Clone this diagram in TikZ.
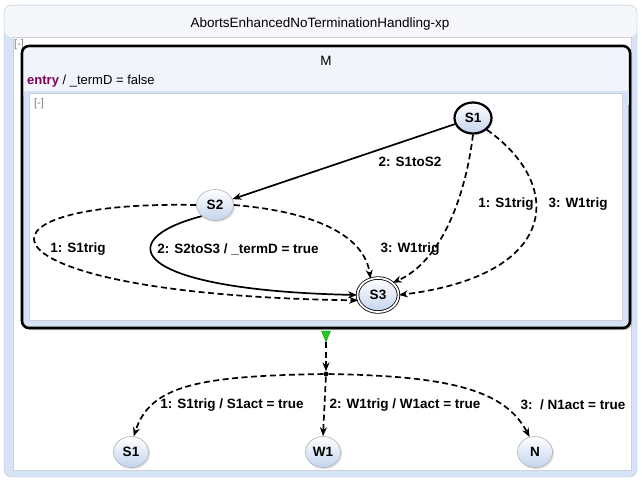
\documentclass[tikz,border=0pt]{standalone}
\usepackage{fontspec}
\setmainfont{Liberation Sans}
\usepackage{xcolor}
\definecolor{frameBlue}{HTML}{D6E2F5}
\definecolor{frameGray}{HTML}{B9BEC7}
\definecolor{titleBg}{HTML}{F6F7FA}
\definecolor{headBg}{HTML}{F1F5FB}
\definecolor{stateBlue}{HTML}{C3D4EE}
\definecolor{entryRed}{HTML}{7F0055}
\definecolor{exitGreen}{HTML}{22CC22}
\usetikzlibrary{arrows.meta,shapes.geometric,shadows}

\begin{document}
\begin{tikzpicture}[x=1pt,y=-1pt,
  state/.style={ellipse, draw=gray!60, line width=0.6pt, top color=white,
    bottom color=stateBlue, minimum width=37pt, minimum height=31pt, inner sep=0pt,
    font=\fontsize{13.5}{15}\selectfont\bfseries,
    drop shadow={shadow xshift=1.5pt, shadow yshift=-1.5pt, opacity=0.25}},
  initstate/.style={state, draw=black, line width=2.2pt},
  finalstate/.style={state, draw=black, line width=0.8pt, double=white,
    double distance=1.8pt, minimum width=41pt, minimum height=34pt},
  trans/.style={-{Stealth[length=9pt,width=7pt]}, line width=1.7pt},
  dtrans/.style={trans, dash pattern=on 6pt off 3.5pt},
  trlabel/.style={font=\fontsize{13.5}{15}\selectfont\bfseries, inner sep=1pt},
  fold/.style={font=\fontsize{11}{12}\selectfont, text=gray, inner sep=0pt, anchor=west}]
  \useasboundingbox (0,0) rectangle (642,480);
  % Outer diagram frame
  \draw[draw=frameGray, fill=frameBlue, rounded corners=8pt] (4,5) rectangle (637,477);
  \fill[titleBg, rounded corners=7pt] (4.5,5.5) rectangle (636.5,37);
  \draw[draw=frameGray!70, fill=white] (13,37) rectangle (631,470);
  \node[font=\fontsize{13.5}{16}\selectfont] (title) at (320,24) {AbortsEnhancedNoTerminationHandling-xp};
  \node[fold] (fold0) at (14,45) {[-]};
  % Composite state M
  \draw[line width=2.6pt, fill=frameBlue, rounded corners=7pt,
    drop shadow={shadow xshift=2pt, shadow yshift=-2pt, opacity=0.4}] (22,46) rectangle (630,328);
  \fill[headBg, rounded corners=5.5pt] (23.5,47.5) rectangle (628.5,100);
  \fill[frameBlue] (23.5,91) rectangle (628.5,105);
  \draw[draw=frameGray!70, fill=white] (29,93) rectangle (622,320);
  \node[font=\fontsize{13.5}{15}\selectfont] (mname) at (326,61) {M};
  \node[font=\fontsize{13}{15}\selectfont, anchor=west, inner sep=0pt] (entry) at (27,81)
    {{\color{entryRed}\bfseries entry} / \_termD = false};
  \node[fold] (fold1) at (34,104) {[-]};
  % States inside M
  \node[initstate] (s1) at (473,118) {S1};
  \node[state] (s2) at (215,205) {S2};
  \node[finalstate] (s3) at (378,295) {S3};
  % Transitions inside M
  \draw[trans] (s1) -- (s2);
  \draw[dtrans] (s1.south) .. controls (465,200) and (440,262) .. (s3.north east);
  \draw[dtrans] (s1.south east) .. controls (565,185) and (560,275) .. (s3.east);
  \draw[dtrans] (s2.east) .. controls (320,212) and (365,238) .. (s3.115);
  \draw[trans] (s2.south west) .. controls (110,240) and (130,290) .. (s3.west);
  \draw[dtrans] (s2.west) .. controls (-50,200) and (-30,295) .. (s3.195);
  \node[trlabel] (l1) at (410,162) {2: S1toS2};
  \node[trlabel] (l2) at (506,204) {1: S1trig};
  \node[trlabel] (l3) at (578,204) {3: W1trig};
  \node[trlabel] (l4) at (78,249) {1: S1trig};
  \node[trlabel] (l5) at (238,249) {2: S2toS3 / \_termD = true};
  \node[trlabel] (l6) at (410,249) {3: W1trig};
  % Exit point and choice below M
  \node[isosceles triangle, shape border rotate=270, fill=exitGreen, draw=green!50!black,
    line width=0.3pt, minimum width=9pt, minimum height=8pt, inner sep=0pt] (ex) at (326,334) {};
  \node[circle, fill=black, inner sep=1.7pt] (jn) at (326,374) {};
  \node[state, minimum width=35pt] (b1) at (131,452) {S1};
  \node[state, minimum width=35pt] (b2) at (323,452) {W1};
  \node[state, minimum width=35pt] (b3) at (535,452) {N};
  \draw[dtrans] (ex.south) -- (jn.north);
  \draw[dtrans] (jn) .. controls (200,376) and (150,385) .. (b1.80);
  \draw[dtrans] (jn) -- (b2.north);
  \draw[dtrans] (jn) .. controls (450,376) and (505,390) .. (b3.110);
  \node[trlabel] (l7) at (232,405) {1: S1trig / S1act = true};
  \node[trlabel] (l8) at (405,405) {2: W1trig / W1act = true};
  \node[trlabel] (l9) at (573,405) {3:\ \ / N1act = true};
\end{tikzpicture}
\end{document}
